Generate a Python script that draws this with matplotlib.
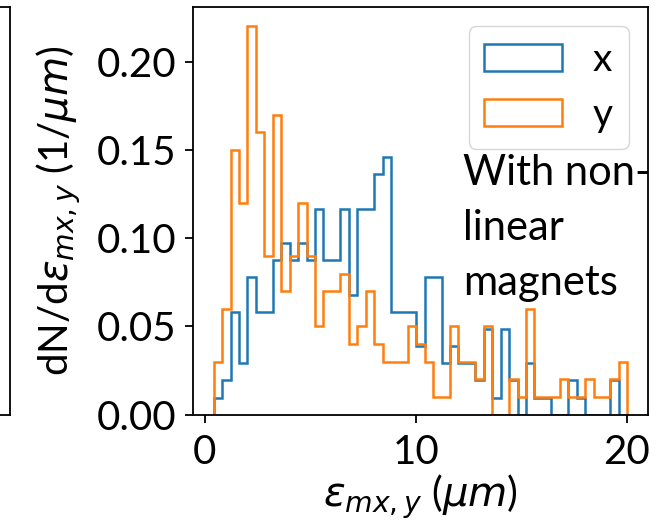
import numpy as np
import matplotlib
matplotlib.use("Agg")
import matplotlib.pyplot as plt

plt.rcParams['font.family'] = ['Lato', 'DejaVu Sans']
plt.rcParams['mathtext.fontset'] = 'dejavusans'

# bin layout of the histogram (emittance, um)
bin_start = 0.43
bin_width = 0.4
n_bins = 49

# counts per bin
x_counts = [1, 2, 6, 3, 8, 6, 6, 9, 10, 9,
            10, 9, 12, 9, 9, 12, 7, 12, 12, 14,
            15, 6, 6, 6, 4, 8, 8, 3, 4, 3,
            3, 2, 5, 1, 5, 2, 0, 3, 1, 1,
            0, 0, 2, 1, 0, 0, 0, 2, 0]
y_counts = [3, 6, 15, 12, 22, 16, 9, 17, 7, 9,
            12, 9, 5, 7, 7, 8, 4, 5, 7, 4,
            3, 3, 3, 5, 4, 3, 1, 1, 5, 3,
            3, 2, 5, 0, 0, 2, 1, 6, 1, 1,
            1, 2, 1, 1, 2, 1, 1, 2, 3]

edges = bin_start + bin_width * np.arange(n_bins + 1)
centers = 0.5 * (edges[:-1] + edges[1:])

fig = plt.figure(figsize=(6.71, 5.28), dpi=100)
W, H = 671, 528
ax = fig.add_axes([193 / W, (H - 414.7) / H, (648 - 193) / W, (414.7 - 7) / H])

# edge of the neighbouring panel (cut off on the left)
ax0 = fig.add_axes([-0.5, (H - 414.7) / H, 0.5 + 10 / W, (414.7 - 7) / H])
ax0.set_xticks([])
ax0.set_yticks([])
for s in ax0.spines.values():
    s.set_linewidth(1.3)

ax.hist(centers, bins=edges, weights=x_counts, density=True,
        histtype='step', linewidth=1.8, color='C0', label='x')
ax.hist(centers, bins=edges, weights=y_counts, density=True,
        histtype='step', linewidth=1.8, color='C1', label='y')

fs = 29
ax.set_xticks([0, 10, 20])
ax.set_yticks([0.0, 0.05, 0.10, 0.15, 0.20])
ax.set_yticklabels(['0.00', '0.05', '0.10', '0.15', '0.20'])
ax.tick_params(labelsize=fs, length=6, width=1.3, pad=6)
ax.tick_params(axis='x', pad=8)
for s in ax.spines.values():
    s.set_linewidth(1.3)

ax.set_xlabel(r'$\varepsilon_{mx,y}$ ($\mu m$)', fontsize=fs, labelpad=1)
ax.set_ylabel(r'dN/d$\varepsilon_{mx,y}$ (1/$\mu m$)', fontsize=fs, labelpad=9)

ax.legend(fontsize=28, loc='upper right')
ax.text(0.593, 0.64, 'With non-\nlinear\nmagnets', transform=ax.transAxes,
        fontsize=30, va='top', ha='left', linespacing=1.55)

fig.savefig('out.png', dpi=100)
